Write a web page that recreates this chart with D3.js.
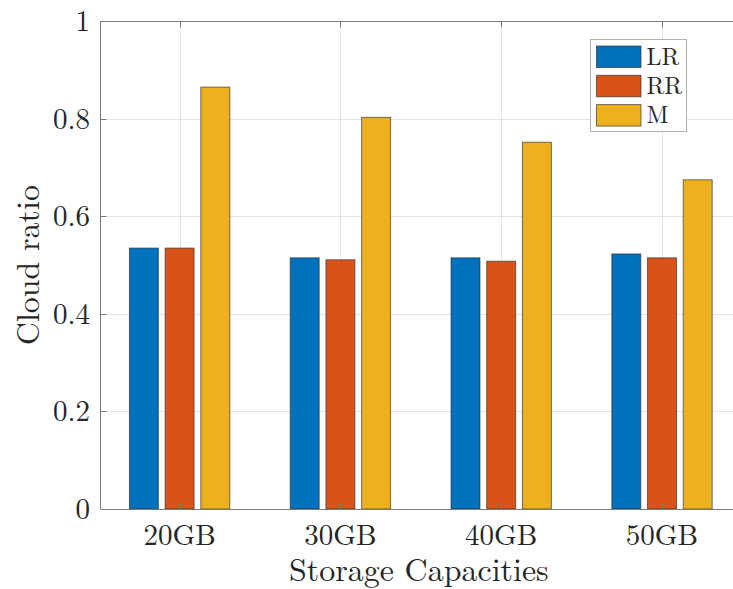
<!DOCTYPE html>
<html>
<head>
<meta charset="utf-8">
<script src="https://cdn.jsdelivr.net/npm/d3@7/dist/d3.min.js"></script>
<style>
  html, body { margin: 0; padding: 0; background: #fff; }
  svg { display: block; }
</style>
</head>
<body>
<svg id="chart" width="733" height="589" font-family="'Latin Modern Roman', 'Liberation Serif', serif"></svg>
<script>
// Storage capacities and the cloud ratio reached by each method
const categories = ["20GB", "30GB", "40GB", "50GB"];
const seriesNames = ["LR", "RR", "M"];
const lrValues = [0.535, 0.515, 0.515, 0.523];
const rrValues = [0.535, 0.511, 0.508, 0.515];
const mValues  = [0.865, 0.803, 0.752, 0.675];
const yTicks = [0, 0.2, 0.4, 0.6, 0.8, 1];
const yTickLabels = ["0", "0.2", "0.4", "0.6", "0.8", "1"];
const colors = ["#0072BD", "#D95319", "#EDB120"];

const series = [lrValues, rrValues, mValues];
const textColor = "#262626";

const svg = d3.select("#chart");
const plot = { left: 100.5, top: 21.3, bottom: 509, right: 743 };

// category positions 1..n, MATLAB-style limits
const x = d3.scaleLinear().domain([0.5, categories.length + 0.5]).range([99.2, 742.4]);
const y = d3.scaleLinear().domain([0, 1]).range([plot.bottom, plot.top]);

const groupStep = 0.222;   // spacing between bars inside a group
const barW = 0.18;         // bar width in category units

// grid
const grid = svg.append("g").attr("stroke", "#e3e3e3").attr("stroke-width", 1);
grid.selectAll("line.gy").data(yTicks.slice(1, -1)).join("line")
  .attr("x1", plot.left).attr("x2", plot.right)
  .attr("y1", d => Math.round(y(d)) + 0.5).attr("y2", d => Math.round(y(d)) + 0.5);
grid.selectAll("line.gx").data(categories).join("line")
  .attr("x1", (d, i) => Math.round(x(i + 1)) + 0.5).attr("x2", (d, i) => Math.round(x(i + 1)) + 0.5)
  .attr("y1", plot.top).attr("y2", plot.bottom);

// bars
const bars = svg.append("g");
series.forEach((vals, s) => {
  bars.selectAll(null).data(vals).join("rect")
    .attr("x", (d, i) => x(i + 1 + (s - 1) * groupStep - barW / 2))
    .attr("width", x(1 + barW) - x(1))
    .attr("y", d => y(d))
    .attr("height", d => y(0) - y(d))
    .attr("fill", colors[s])
    .attr("stroke", "#2b2b2b")
    .attr("stroke-opacity", 0.65)
    .attr("stroke-width", 1);
});

// axes box and inward ticks
const axisColor = "#7a7a7a";
const frame = svg.append("g").attr("stroke", axisColor).attr("stroke-width", 1).attr("fill", "none");
frame.append("line").attr("x1", plot.left).attr("x2", plot.left).attr("y1", plot.top).attr("y2", plot.bottom);
frame.append("line").attr("x1", plot.left).attr("x2", plot.right).attr("y1", Math.round(plot.top) + 0.5).attr("y2", Math.round(plot.top) + 0.5);
frame.append("line").attr("x1", plot.left).attr("x2", plot.right).attr("y1", plot.bottom + 0.5).attr("y2", plot.bottom + 0.5);
frame.selectAll("line.ty").data(yTicks).join("line")
  .attr("x1", plot.left).attr("x2", plot.left + 6)
  .attr("y1", d => Math.round(y(d)) + 0.5).attr("y2", d => Math.round(y(d)) + 0.5);
frame.selectAll("line.tx").data(categories).join("line")
  .attr("x1", (d, i) => Math.round(x(i + 1)) + 0.5).attr("x2", (d, i) => Math.round(x(i + 1)) + 0.5)
  .attr("y1", plot.top).attr("y2", plot.top + 6);
frame.selectAll("line.bx").data(categories).join("line")
  .attr("x1", (d, i) => Math.round(x(i + 1)) + 0.5).attr("x2", (d, i) => Math.round(x(i + 1)) + 0.5)
  .attr("y1", plot.bottom).attr("y2", plot.bottom - 6);

// tick labels
svg.append("g").selectAll("text").data(yTicks).join("text")
  .attr("x", 90).attr("y", d => y(d) + 10)
  .attr("text-anchor", "end").attr("font-size", 29).attr("fill", textColor)
  .text((d, i) => yTickLabels[i]);

svg.append("g").selectAll("text").data(categories).join("text")
  .attr("x", (d, i) => x(i + 1)).attr("y", 545)
  .attr("text-anchor", "middle").attr("font-size", 29).attr("fill", textColor)
  .text(d => d);

// axis labels
svg.append("text")
  .attr("x", x(2.5) - 2).attr("y", 581)
  .attr("text-anchor", "middle").attr("font-size", 32).attr("fill", textColor)
  .text("Storage Capacities");
svg.append("text")
  .attr("transform", `translate(39,${(plot.top + plot.bottom) / 2}) rotate(-90)`)
  .attr("text-anchor", "middle").attr("font-size", 32).attr("fill", textColor)
  .text("Cloud ratio");

// legend
const lg = svg.append("g").attr("transform", "translate(590.5,39.5)");
lg.append("rect").attr("width", 96).attr("height", 92)
  .attr("fill", "#fff").attr("stroke", "#b0b0b0").attr("stroke-width", 1);
seriesNames.forEach((name, i) => {
  lg.append("rect").attr("x", 6).attr("y", 6.5 + i * 29.3).attr("width", 44.5).attr("height", 21.5)
    .attr("fill", colors[i]).attr("stroke", "#2b2b2b").attr("stroke-opacity", 0.65);
  lg.append("text").attr("x", 56).attr("y", 25 + i * 29.3).attr("font-size", 24).attr("fill", textColor).text(name);
});
</script>
</body>
</html>
